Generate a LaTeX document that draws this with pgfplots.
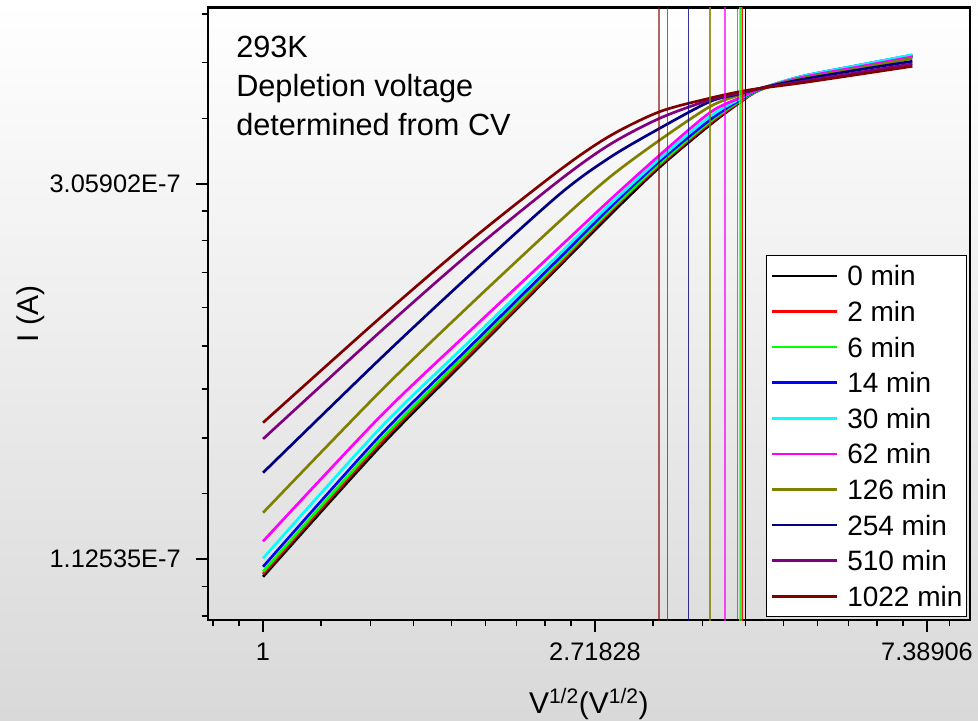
\documentclass[border=0pt]{standalone}
\usepackage{pgfplots}
\pgfplotsset{compat=1.18}
\usepackage{fontspec}
\setmainfont{Liberation Sans}
\definecolor{cGreen}{RGB}{0,255,0}
\definecolor{cCyan}{RGB}{0,255,255}
\definecolor{cMag}{RGB}{255,0,255}
\definecolor{cOlive}{RGB}{128,128,0}
\definecolor{cNavy}{RGB}{0,0,128}
\definecolor{cPurple}{RGB}{128,0,128}
\definecolor{cMaroon}{RGB}{128,0,0}
\begin{document}
\begin{tikzpicture}
\shade[top color=white, bottom color=black!15] (-155.8pt,-75.75pt) rectangle (577.7pt,465pt);
\begin{axis}[
  at={(0,0)}, anchor=south west,
  scale only axis, width=571.7pt, height=459.4pt,
  xmode=log, ymode=log,
  xmin=0.84656, xmax=8.4108, ymin=9.564e-8, ymax=4.894e-7,
  axis line style={line width=1.6pt, black},
  tick align=outside, xtick pos=bottom, ytick pos=left,
  major tick length=9pt, minor tick length=4.5pt,
  tick style={line width=1.2pt, black},
  xtick={1,2.71828,7.38906}, xticklabels={1,2.71828,7.38906},
  minor xtick={0.85960,0.92980,1.19092,1.38184,1.57276,1.76368,1.95460,2.14552,2.33644,2.52736,3.23726,3.75623,4.27521,4.79418,5.31316,5.83214,6.35111,6.87009,7.90804},
  ytick={1.12535e-7,3.05902e-7}, yticklabels={1.12535E-7,3.05902E-7},
  minor ytick={0.96727e-7,1.04631e-7,1.34020e-7,1.55505e-7,1.76990e-7,1.98475e-7,2.19961e-7,2.41446e-7,2.62931e-7,2.84416e-7,3.64305e-7,4.22708e-7,4.81111e-7},
  xticklabel style={font=\fontsize{19}{19}\selectfont, anchor=base, yshift=-21.7pt},
  yticklabel style={font=\fontsize{19}{19}\selectfont, anchor=east, xshift=-7.8pt},
  xlabel={V\textsuperscript{1/2}(V\textsuperscript{1/2})},
  xlabel style={at={(rel axis cs:0.5,-0.1523)}, anchor=base, font=\fontsize{22.5}{22.5}\selectfont},
  ylabel={I (A)},
  ylabel style={at={(rel axis cs:-0.2318,0.5)}, anchor=center, font=\fontsize{22.5}{22.5}\selectfont},
  legend cell align=left,
  legend style={at={(rel axis cs:0.9965,0.0054)}, anchor=south east, draw=black, line width=0.75pt, fill=white,
    font=\fontsize{21}{21}\selectfont, inner xsep=3.3pt, inner ysep=3.65pt, row sep=4pt,
    nodes={inner sep=0pt, text height=18.85pt, text depth=3.85pt}},
  legend image code/.code={\draw[#1, line width=2pt] (0pt,0pt) -- (48.5pt,0pt); \path (55.5pt,0pt);},
  every axis plot/.append style={line width=2pt, smooth},
]
\addplot[black] coordinates {(1,1.07347e-7) (1.4225,1.51825e-7) (1.8655,1.93318e-7) (2.4463,2.46147e-7) (2.8440,2.81631e-7) (3.3063,3.20089e-7) (3.8436,3.58022e-7) (4.2068,3.80163e-7) (4.4683,3.93047e-7) (5.0404,4.05828e-7) (6.0387,4.18465e-7) (7.0711,4.29777e-7)};
\addlegendentry{0 min}
\addplot[red] coordinates {(1,1.08122e-7) (1.4225,1.53208e-7) (1.8655,1.94817e-7) (2.4463,2.47729e-7) (2.8440,2.83893e-7) (3.3063,3.21800e-7) (3.8436,3.59649e-7) (4.2068,3.80671e-7) (4.4683,3.93047e-7) (5.0404,4.06369e-7) (6.0387,4.19025e-7) (7.0711,4.30007e-7)};
\addlegendentry{2 min}
\addplot[cGreen] coordinates {(1,1.08788e-7) (1.4225,1.54276e-7) (1.8655,1.96068e-7) (2.4463,2.49185e-7) (2.8440,2.85030e-7) (3.3063,3.23090e-7) (3.8436,3.61188e-7) (4.2068,3.81686e-7) (4.4683,3.93047e-7) (5.0404,4.06369e-7) (6.0387,4.19025e-7) (7.0711,4.30349e-7)};
\addlegendentry{6 min}
\addplot[blue] coordinates {(1,1.10247e-7) (1.4225,1.56347e-7) (1.8655,1.98276e-7) (2.4463,2.51455e-7) (2.8440,2.87320e-7) (3.3063,3.25251e-7) (3.8436,3.62830e-7) (4.2068,3.82705e-7) (4.4683,3.93574e-7) (5.0404,4.06911e-7) (6.0387,4.19921e-7) (7.0711,4.31154e-7)};
\addlegendentry{14 min}
\addplot[cCyan] coordinates {(1,1.12746e-7) (1.4225,1.59461e-7) (1.8655,2.01314e-7) (2.4463,2.54220e-7) (2.8440,2.89628e-7) (3.3063,3.27427e-7) (3.8436,3.66036e-7) (4.2068,3.83727e-7) (4.4683,3.94097e-7) (5.0404,4.06911e-7) (6.0387,4.19921e-7) (7.0711,4.31499e-7)};
\addlegendentry{30 min}
\addplot[cMag] coordinates {(1,1.17974e-7) (1.4225,1.64471e-7) (1.8655,2.06698e-7) (2.4463,2.58732e-7) (2.8440,2.93124e-7) (3.3063,3.30497e-7) (3.8436,3.69961e-7) (4.2068,3.84751e-7) (4.4683,3.94097e-7) (5.0404,4.05828e-7) (6.0387,4.18131e-7) (7.0711,4.29205e-7)};
\addlegendentry{62 min}
\addplot[cOlive] coordinates {(1,1.27326e-7) (1.4225,1.75808e-7) (1.8655,2.21537e-7) (2.4463,2.77159e-7) (2.8440,3.11666e-7) (3.3063,3.43985e-7) (3.8436,3.75929e-7) (4.2068,3.87841e-7) (4.4683,3.94623e-7) (5.0404,4.04748e-7) (6.0387,4.16464e-7) (7.0711,4.27492e-7)};
\addlegendentry{126 min}
\addplot[cNavy] coordinates {(1,1.41654e-7) (1.4225,1.91828e-7) (1.8655,2.39990e-7) (2.4463,2.97852e-7) (2.8440,3.28301e-7) (3.3063,3.54886e-7) (3.8436,3.80973e-7) (4.2068,3.88878e-7) (4.4683,3.94623e-7) (5.0404,4.03668e-7) (6.0387,4.14800e-7) (7.0711,4.24084e-7)};
\addlegendentry{254 min}
\addplot[cPurple] coordinates {(1,1.54975e-7) (1.4225,2.06149e-7) (1.8655,2.54492e-7) (2.4463,3.09183e-7) (2.8440,3.39882e-7) (3.3063,3.64479e-7) (3.8436,3.82705e-7) (4.2068,3.89918e-7) (4.4683,3.94623e-7) (5.0404,4.01524e-7) (6.0387,4.11934e-7) (7.0711,4.21267e-7)};
\addlegendentry{510 min}
\addplot[cMaroon] coordinates {(1,1.61862e-7) (1.4225,2.13991e-7) (1.8655,2.62767e-7) (2.4463,3.17538e-7) (2.8440,3.47676e-7) (3.3063,3.70949e-7) (3.8436,3.84442e-7) (4.2068,3.91270e-7) (4.4683,3.94623e-7) (5.0404,4.00132e-7) (6.0387,4.09747e-7) (7.0711,4.18465e-7)};
\addlegendentry{1022 min}
% depletion voltages (vertical lines)
\addplot[forget plot, cMaroon, line width=0.8pt, opacity=0.6, sharp plot] coordinates {(3.2962,9e-8) (3.2962,5.2e-7)};
\addplot[forget plot, cPurple, line width=0.8pt, opacity=0.7, sharp plot] coordinates {(3.3837,9e-8) (3.3837,5.2e-7)};
\addplot[forget plot, cNavy, line width=0.8pt, opacity=0.8, sharp plot] coordinates {(3.6047,9e-8) (3.6047,5.2e-7)};
\addplot[forget plot, cOlive, line width=0.8pt, opacity=0.8, sharp plot] coordinates {(3.8436,9e-8) (3.8436,5.2e-7)};
\addplot[forget plot, cMag, line width=0.8pt, opacity=0.7, sharp plot] coordinates {(4.0212,9e-8) (4.0212,5.2e-7)};
\addplot[forget plot, blue, line width=0.8pt, opacity=0.5, sharp plot] coordinates {(4.1779,9e-8) (4.1779,5.2e-7)};
\addplot[forget plot, cCyan, line width=0.8pt, opacity=0.8, sharp plot] coordinates {(4.1981,9e-8) (4.1981,5.2e-7)};
\addplot[forget plot, cGreen, line width=0.8pt, opacity=0.8, sharp plot] coordinates {(4.2197,9e-8) (4.2197,5.2e-7)};
\addplot[forget plot, red, line width=0.8pt, opacity=0.9, sharp plot] coordinates {(4.2413,9e-8) (4.2413,5.2e-7)};
\addplot[forget plot, black, line width=0.8pt, sharp plot] coordinates {(4.2747,9e-8) (4.2747,5.2e-7)};
\node[anchor=north west, inner sep=0pt, align=left, font=\fontsize{23}{29.25}\selectfont] at (rel axis cs:0.0371,0.9546) {293K\\Depletion voltage\\determined from CV};
\end{axis}
\pgfresetboundingbox
\path (-155.8pt,-75.75pt) rectangle (577.7pt,465pt);
\end{tikzpicture}
\end{document}
